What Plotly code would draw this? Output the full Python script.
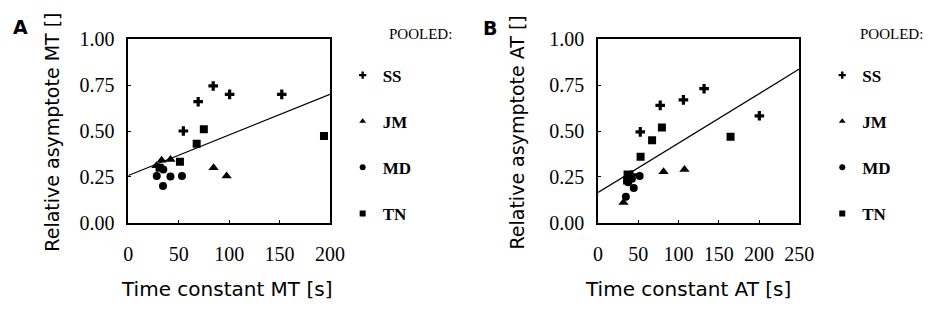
import plotly.graph_objects as go

# ---- data ----
series_names = ["SS", "JM", "MD", "TN"]

# Panel A (MT)
ss_a_x = [54.6, 69.3, 84.2, 100.5, 152.2]
ss_a_y = [0.50, 0.66, 0.746, 0.70, 0.70]
jm_a_x = [27.9, 33.0, 41.8, 84.6, 97.5]
jm_a_y = [0.31, 0.34, 0.345, 0.30, 0.254]
md_a_x = [28.2, 34.7, 34.4, 41.8, 53.2]
md_a_y = [0.255, 0.29, 0.20, 0.252, 0.254]
tn_a_x = [31.0, 51.2, 67.8, 74.9, 194.1]
tn_a_y = [0.30, 0.332, 0.43, 0.509, 0.473]
fit_a_x = [0, 200]
fit_a_y = [0.257, 0.70]

# Panel B (AT)
ss_b_x = [42.0, 52.4, 77.2, 106.0, 131.7, 200.4]
ss_b_y = [0.26, 0.495, 0.64, 0.67, 0.731, 0.583]
jm_b_x = [31.5, 40.0, 81.3, 107.3]
jm_b_y = [0.11, 0.25, 0.277, 0.29]
md_b_x = [34.5, 37.4, 42.0, 44.3, 51.6]
md_b_y = [0.141, 0.22, 0.24, 0.189, 0.255]
tn_b_x = [36.0, 36.6, 52.8, 67.1, 79.3, 164.6]
tn_b_y = [0.23, 0.262, 0.359, 0.449, 0.519, 0.469]
fit_b_x = [0, 250]
fit_b_y = [0.165, 0.838]

x_ticks_a = [0, 50, 100, 150, 200]
x_ticks_b = [0, 50, 100, 150, 200, 250]
y_ticks = [0.0, 0.25, 0.5, 0.75, 1.0]
y_ticklabels = ["0.00", "0.25", "0.50", "0.75", "1.00"]

# ---- styles ----
W, H = 941, 324
symbols = {"SS": "cross", "JM": "triangle-up", "MD": "circle", "TN": "square"}
sizes = {"SS": 8, "JM": 9, "MD": 8, "TN": 8}
leg_sizes = {"SS": 6, "JM": 6, "MD": 6, "TN": 6}
serif = "Liberation Serif"
sans = "DejaVu Sans"

fig = go.Figure()

data_a = {"SS": (ss_a_x, ss_a_y), "JM": (jm_a_x, jm_a_y),
          "MD": (md_a_x, md_a_y), "TN": (tn_a_x, tn_a_y)}
data_b = {"SS": (ss_b_x, ss_b_y), "JM": (jm_b_x, jm_b_y),
          "MD": (md_b_x, md_b_y), "TN": (tn_b_x, tn_b_y)}

fig.add_trace(go.Scatter(x=fit_a_x, y=fit_a_y, mode="lines",
                         line=dict(color="black", width=1.2),
                         showlegend=False, xaxis="x", yaxis="y"))
fig.add_trace(go.Scatter(x=fit_b_x, y=fit_b_y, mode="lines",
                         line=dict(color="black", width=1.2),
                         showlegend=False, xaxis="x2", yaxis="y2"))

for panel, data, xa, ya, leg in [("a", data_a, "x", "y", "legend"),
                                 ("b", data_b, "x2", "y2", "legend2")]:
    for name in series_names:
        x, y = data[name]
        fig.add_trace(go.Scatter(x=x, y=y, mode="markers", name=name,
                                 showlegend=False,
                                 marker=dict(symbol=symbols[name], size=sizes[name],
                                             color="black", line=dict(width=0)),
                                 xaxis=xa, yaxis=ya))
    for name in series_names:
        # legend-only entry with smaller key symbol
        fig.add_trace(go.Scatter(x=[None], y=[None], mode="markers", name=name,
                                 legendgroup=panel + name, legend=leg,
                                 marker=dict(symbol=symbols[name], size=leg_sizes[name],
                                             color="black", line=dict(width=0)),
                                 xaxis=xa, yaxis=ya))

axis_common = dict(showgrid=False, zeroline=False, showline=True, linecolor="black",
                   linewidth=1.5, mirror=True, ticks="inside", ticklen=3,
                   tickcolor="black", tickfont=dict(family=serif, size=20, color="black"))

ydom = [1 - 227 / H, 1 - 30.5 / H]
leg_font = dict(family=serif, size=17, color="black", weight="bold")
fig.update_layout(
    width=W, height=H,
    margin=dict(l=0, r=0, t=0, b=0),
    paper_bgcolor="white", plot_bgcolor="white",
    xaxis=dict(domain=[126 / W, 332 / W], range=[0, 200], tickvals=x_ticks_a,
               anchor="y", ticklabelstandoff=13, **axis_common),
    yaxis=dict(domain=ydom, range=[0, 1], tickvals=y_ticks, ticktext=y_ticklabels,
               anchor="x", ticklabelstandoff=8, **axis_common),
    xaxis2=dict(domain=[606 / W, 811.5 / W], range=[0, 250], tickvals=x_ticks_b,
                anchor="y2", ticklabelstandoff=13, **axis_common),
    yaxis2=dict(domain=ydom, range=[0, 1], tickvals=y_ticks, ticktext=y_ticklabels,
                anchor="x2", ticklabelstandoff=8, **axis_common),
    legend=dict(x=345 / W, y=1 - 50 / H, xanchor="left", yanchor="top",
                font=leg_font, tracegroupgap=21, bgcolor="rgba(0,0,0,0)"),
    legend2=dict(x=835 / W, y=1 - 50 / H, xanchor="left", yanchor="top",
                 font=leg_font, tracegroupgap=21, bgcolor="rgba(0,0,0,0)"),
)

annotations = [
    dict(text="<b>A</b>", x=16 / W, y=1 - 17 / H, font=dict(family=sans, size=19)),
    dict(text="<b>B</b>", x=496 / W, y=1 - 18 / H, font=dict(family=sans, size=19)),
    dict(text="Relative asymptote MT []", x=48.5 / W, y=1 - 130 / H, textangle=-90,
         font=dict(family=sans, size=19)),
    dict(text="Relative asymptote AT []", x=523.5 / W, y=1 - 130 / H, textangle=-90,
         font=dict(family=sans, size=19)),
    dict(text="Time constant MT [s]", x=226 / W, y=1 - 298 / H,
         font=dict(family=sans, size=20)),
    dict(text="Time constant AT [s]", x=698 / W, y=1 - 298 / H,
         font=dict(family=sans, size=20)),
    dict(text="POOLED:", x=390 / W, y=1 - 25 / H, xanchor="left",
         font=dict(family=serif, size=15)),
    dict(text="POOLED:", x=872 / W, y=1 - 25 / H, xanchor="left",
         font=dict(family=serif, size=15)),
]
for a in annotations:
    a.setdefault("xanchor", "center")
    a["xref"] = "paper"
    a["yref"] = "paper"
    a["yanchor"] = "middle"
    a["showarrow"] = False
    a["font"]["color"] = "black"
fig.update_layout(annotations=annotations)

fig.write_html("out.html")
